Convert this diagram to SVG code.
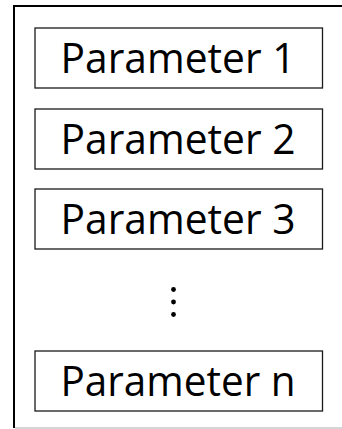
<svg xmlns="http://www.w3.org/2000/svg" width="342" height="429" viewBox="0 0 342 429">
  <style>
    .frame { fill: none; stroke: #000; stroke-width: 2; }
    .base { stroke: #c8c8c8; stroke-width: 1.5; }
    .box { fill: #fff; stroke: #1a1a1a; stroke-width: 1.3; }
    .label { font-family: "Open Sans", "Noto Sans", "Liberation Sans", sans-serif; font-size: 41.5px; fill: #000; text-anchor: middle; }
    .dot { fill: #000; }
  </style>
  <!-- outer container: left and top edges, open to the right -->
  <g id="container">
    <path class="frame" d="M14 428 V6 H342"/>
    <line class="base" x1="15" y1="428" x2="342" y2="428"/>
  </g>
  <g id="param1">
    <rect class="box" x="35" y="28" width="287.5" height="60"/>
    <text class="label" x="178" y="72.5" textLength="235" lengthAdjust="spacingAndGlyphs">Parameter 1</text>
  </g>
  <g id="param2">
    <rect class="box" x="35" y="109" width="287.5" height="60"/>
    <text class="label" x="178" y="154" textLength="235" lengthAdjust="spacingAndGlyphs">Parameter 2</text>
  </g>
  <g id="param3">
    <rect class="box" x="35" y="189" width="287.5" height="60"/>
    <text class="label" x="178" y="234" textLength="235" lengthAdjust="spacingAndGlyphs">Parameter 3</text>
  </g>
  <!-- vertical ellipsis -->
  <g id="ellipsis">
    <circle class="dot" cx="173.5" cy="289.5" r="2.4"/>
    <circle class="dot" cx="173.5" cy="302" r="2.4"/>
    <circle class="dot" cx="173.5" cy="314.5" r="2.4"/>
  </g>
  <g id="paramN">
    <rect class="box" x="35" y="351" width="287.5" height="60"/>
    <text class="label" x="178" y="396" textLength="235" lengthAdjust="spacingAndGlyphs">Parameter n</text>
  </g>
</svg>
